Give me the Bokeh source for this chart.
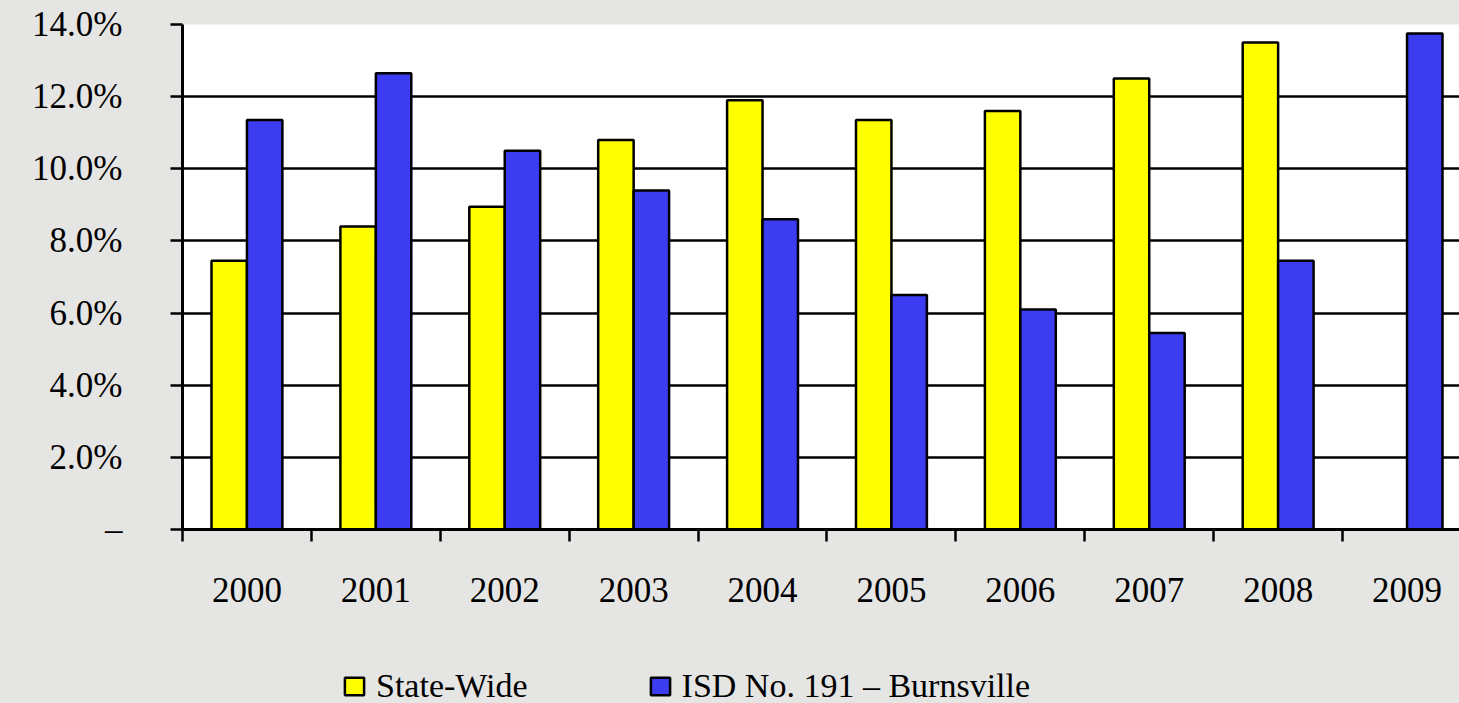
import numpy as np
from bokeh.plotting import figure
from bokeh.models import FixedTicker, Range1d
from bokeh.layouts import column
from bokeh.embed import file_html
from bokeh.resources import INLINE

# ---- data ----
years = ["2000", "2001", "2002", "2003", "2004", "2005", "2006", "2007", "2008", "2009"]
state_wide = [7.45, 8.4, 8.95, 10.8, 11.9, 11.35, 11.6, 12.5, 13.5, np.nan]
isd_191 = [11.35, 12.65, 10.5, 9.4, 8.6, 6.5, 6.1, 5.45, 7.45, 13.75]
y_ticks = [0, 2, 4, 6, 8, 10, 12, 14]
y_labels = ["–", "2.0%", "4.0%", "6.0%", "8.0%", "10.0%", "12.0%", "14.0%"]
series_names = ["State-Wide", "ISD No. 191 – Burnsville"]

FONT = "Liberation Serif"
BG = "#e5e5e3"
YELLOW = "#FFFF00"
BLUE = "#3C3CF0"

W = 1459
H1 = 632
H2 = 703 - H1

p = figure(width=W, height=H1,
           x_range=Range1d(0, 9.907), y_range=Range1d(0, 14),
           output_backend="svg", toolbar_location=None,
           min_border_left=182, min_border_right=0,
           min_border_top=24, min_border_bottom=H1 - 529,
           background_fill_color="white", border_fill_color=BG,
           outline_line_color=None)

centers = np.arange(len(years)) + 0.5
bw = 0.275
series = [(state_wide, -bw / 2, YELLOW), (isd_191, bw / 2, BLUE)]
for vals, off, col in series:
    p.vbar(x=centers + off, top=vals, bottom=0, width=bw,
           fill_color=col, line_color="black", line_width=2.5)

# x axis: labels at centers, tick marks at category boundaries
xa = p.xaxis[0]
xa.ticker = FixedTicker(ticks=list(centers), minor_ticks=list(range(0, len(years) + 1)))
xa.major_label_overrides = {float(c): y for c, y in zip(centers, years)}
xa.major_tick_line_color = None
xa.major_tick_out = 12
xa.major_tick_in = 0
xa.minor_tick_out = 12
xa.minor_tick_in = 0
xa.minor_tick_line_color = "black"
xa.minor_tick_line_width = 2.5
xa.axis_line_color = "black"
xa.axis_line_width = 3
xa.major_label_standoff = 36
xa.major_label_text_font = FONT
xa.major_label_text_font_size = "35px"
xa.major_label_text_color = "black"

ya = p.yaxis[0]
ya.ticker = FixedTicker(ticks=y_ticks)
ya.major_label_overrides = {t: l for t, l in zip(y_ticks, y_labels)}
ya.major_tick_out = 12
ya.major_tick_in = 0
ya.major_tick_line_color = "black"
ya.major_tick_line_width = 2.5
ya.minor_tick_line_color = None
ya.axis_line_color = "black"
ya.axis_line_width = 3
ya.major_label_standoff = 48
ya.major_label_text_font = FONT
ya.major_label_text_font_size = "35px"
ya.major_label_text_color = "black"

p.xgrid.visible = False
p.ygrid.grid_line_color = "black"
p.ygrid.grid_line_width = 2.5

# ---- legend strip (own small figure so it is not clipped by the plot frame) ----
lf = figure(width=W, height=H2, x_range=Range1d(0, 1), y_range=Range1d(0, 1),
            output_backend="svg", toolbar_location=None,
            x_axis_location=None, y_axis_location=None,
            min_border=0, background_fill_color=BG, border_fill_color=BG,
            outline_line_color=None)
lf.xgrid.visible = False
lf.ygrid.visible = False
for name, (vals, off, col) in zip(series_names, series):
    r = lf.vbar(x=centers + off, top=vals, bottom=0, width=bw, fill_color=col,
                line_color="black", line_width=2.5, legend_label=name)
    r.visible = False  # only the legend swatch is shown here

lg = lf.legend[0]
lg.orientation = "horizontal"
lg.location = (160, -2)
lg.background_fill_alpha = 0
lg.border_line_color = None
lg.inactive_fill_alpha = 0
lg.padding = 0
lg.margin = 0
lg.glyph_width = 24
lg.glyph_height = 22
lg.label_standoff = 10
lg.spacing = 120
lg.label_text_font = FONT
lg.label_text_font_size = "34px"
lg.label_text_color = "black"

layout = column(p, lf, spacing=0)

html = file_html(layout, INLINE)
html = html.replace("<head>", "<head><style>body{background:%s}</style>" % BG, 1)
open("out.html", "w").write(html)
